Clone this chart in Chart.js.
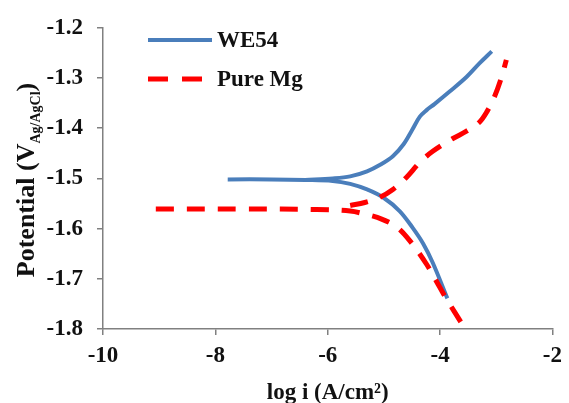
<!DOCTYPE html>
<html>
<head>
<meta charset="utf-8">
<script src="https://cdn.jsdelivr.net/npm/chart.js@4.4.0/dist/chart.umd.min.js"></script>
<style>
  html, body { margin: 0; padding: 0; background: #fff; }
</style>
</head>
<body>
<canvas id="myChart" width="569" height="403"></canvas>
<script>
      // series names
      var seriesNames = ["WE54", "Pure Mg"];

      // WE54: cathodic branch (plateau -> down) and anodic branch (fork -> up)
      var we54CathX = [-7.78, -7.0, -6.4, -5.91, -5.6, -5.3, -5.0, -4.72, -4.49, -4.3, -4.13, -3.87];
      var we54CathY = [-1.502, -1.502, -1.503, -1.505, -1.511, -1.522, -1.539, -1.565, -1.598, -1.630, -1.668, -1.739];
      var we54AnodX = [-6.4, -5.91, -5.6, -5.3, -5.05, -4.84, -4.65, -4.5, -4.36, -4.24, -4.10, -3.83, -3.53, -3.30, -3.08];
      var we54AnodY = [-1.503, -1.500, -1.496, -1.486, -1.472, -1.456, -1.432, -1.404, -1.377, -1.364, -1.352, -1.327, -1.298, -1.271, -1.247];

      // Pure Mg
      var mgCathX = [-9.06, -7.5, -6.2, -5.6, -5.34, -5.04, -4.77, -4.54, -4.24, -4.01, -3.87, -3.62];
      var mgCathY = [-1.561, -1.561, -1.562, -1.565, -1.571, -1.581, -1.597, -1.624, -1.671, -1.716, -1.743, -1.788];
      var mgAnodX = [-5.6, -5.34, -5.08, -4.84, -4.6, -4.36, -4.13, -3.78, -3.53, -3.30, -3.16, -3.03, -2.91, -2.82];
      var mgAnodY = [-1.554, -1.548, -1.538, -1.522, -1.498, -1.468, -1.446, -1.421, -1.406, -1.388, -1.366, -1.337, -1.300, -1.264];

      var xTicks = [-10, -8, -6, -4, -2];
      var yTicks = [-1.8, -1.7, -1.6, -1.5, -1.4, -1.3, -1.2];

      var blue = "#4A7EBB";
      var red = "#FF0000";
      var serif = '"Liberation Serif", "Times New Roman", serif';

      function pts(xs, ys) {
          var out = [];
          for (var i = 0; i < xs.length; i++) out.push({ x: xs[i], y: ys[i] });
          return out;
      }

      function lineSet(label, data, color, dash, width, order) {
          return {
              label: label,
              data: data,
              showLine: true,
              borderColor: color,
              backgroundColor: color,
              borderWidth: width,
              borderDash: dash,
              borderCapStyle: "butt",
              borderJoinStyle: "round",
              pointRadius: 0,
              tension: 0.35,
              fill: false,
              order: order
          };
      }

      // titles and legend drawn on the canvas
      var extras = {
          id: "extras",
          afterDraw: function (chart) {
              var ctx = chart.ctx;
              ctx.save();
              ctx.fillStyle = "#111";
              ctx.textBaseline = "middle";

              // legend
              ctx.lineWidth = 4;
              ctx.strokeStyle = blue;
              ctx.setLineDash([]);
              ctx.beginPath(); ctx.moveTo(148, 40); ctx.lineTo(212, 40); ctx.stroke();
              ctx.lineWidth = 5;
              ctx.strokeStyle = red;
              ctx.setLineDash([20, 14]);
              ctx.beginPath(); ctx.moveTo(148, 79); ctx.lineTo(212, 79); ctx.stroke();
              ctx.setLineDash([]);
              ctx.font = "bold 23px " + serif;
              ctx.textAlign = "left";
              ctx.fillText(seriesNames[0], 217, 41);
              ctx.fillText(seriesNames[1], 217, 80);

              // x title
              ctx.textAlign = "center";
              ctx.font = "bold 23px " + serif;
              ctx.fillText("log i (A/cm\u00B2)", (chart.chartArea.left + chart.chartArea.right) / 2, 393);

              // y title with subscript
              var big = "bold 26px " + serif, small = "bold 14px " + serif;
              var t1 = "Potential (V", t2 = "Ag/AgCl", t3 = ")";
              ctx.font = big; var w1 = ctx.measureText(t1).width, w3 = ctx.measureText(t3).width;
              ctx.font = small; var w2 = ctx.measureText(t2).width;
              var total = w1 + w2 + w3;
              ctx.translate(25, 180);
              ctx.rotate(-Math.PI / 2);
              ctx.textAlign = "left";
              ctx.textBaseline = "alphabetic";
              var sx = -total / 2;
              ctx.font = big; ctx.fillText(t1, sx, 9);
              ctx.font = small; ctx.fillText(t2, sx + w1, 15);
              ctx.font = big; ctx.fillText(t3, sx + w1 + w2, 9);
              ctx.restore();
          }
      };

      new Chart("myChart", {
          type: "scatter",
          data: {
              datasets: [
                  lineSet(seriesNames[0], pts(we54CathX, we54CathY), blue, [], 4, 1),
                  lineSet(seriesNames[0], pts(we54AnodX, we54AnodY), blue, [], 4, 1),
                  lineSet(seriesNames[1], pts(mgCathX, mgCathY), red, [18, 13], 5, 0),
                  lineSet(seriesNames[1], pts(mgAnodX, mgAnodY), red, [18, 13], 5, 0)
              ]
          },
          options: {
              responsive: false,
              animation: false,
              events: [],
              layout: { padding: { left: 0, top: 22, right: 16, bottom: 0 } },
              plugins: {
                  legend: { display: false },
                  title: { display: false },
                  tooltip: { enabled: false }
              },
              scales: {
                  x: {
                      type: "linear",
                      min: -10,
                      max: -2,
                      afterBuildTicks: function (s) { s.ticks = xTicks.map(function (v) { return { value: v }; }); },
                      afterFit: function (s) { s.height = 74; },
                      ticks: {
                          font: { family: serif, size: 23, weight: "bold" },
                          color: "#111",
                          padding: 7,
                          maxRotation: 0
                      },
                      grid: { drawOnChartArea: false, tickLength: 6, color: "#808080", lineWidth: 1.5 },
                      border: { color: "#808080", width: 1.5 }
                  },
                  y: {
                      type: "linear",
                      min: -1.8,
                      max: -1.2,
                      afterBuildTicks: function (s) { s.ticks = yTicks.map(function (v) { return { value: v }; }); },
                      afterFit: function (s) { s.width = 103; },
                      ticks: {
                          font: { family: serif, size: 23, weight: "bold" },
                          color: "#111",
                          padding: 14,
                          callback: function (v) { return v.toFixed(1); }
                      },
                      grid: { drawOnChartArea: false, tickLength: 6, color: "#808080", lineWidth: 1.5 },
                      border: { color: "#808080", width: 1.5 }
                  }
              }
          },
          plugins: [extras]
      });
</script>
</body>
</html>
